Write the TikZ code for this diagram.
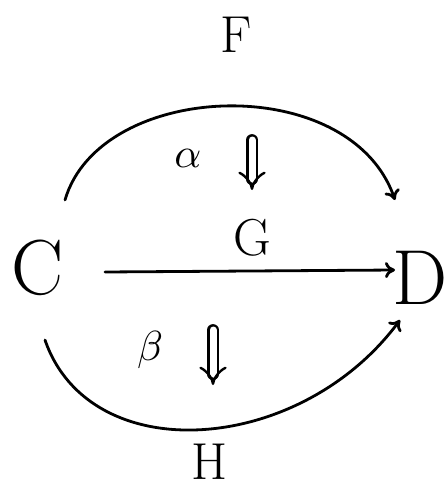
\documentclass[tikz,border=0pt]{standalone}
\usetikzlibrary{arrows.meta}
\begin{document}
\begin{tikzpicture}[x=1pt,y=-1pt,line width=2.8pt,line cap=round,
  obj/.style={inner sep=0pt,font=\fontsize{78}{78}\selectfont},
  lab/.style={inner sep=0pt,font=\fontsize{52}{52}\selectfont},
  greek/.style={inner sep=0pt,scale=4.2},
  arr/.style={-{To[length=10pt,width=16pt]}},
  twocell/.style={double,double distance=7pt,line width=2.4pt,-{Implies}}]
\useasboundingbox (0,0) rectangle (447,495);
\node[obj] (C) at (38,268) {C};
\node[obj] (D) at (420,278) {D};
\node[lab] (F) at (236,35) {F};
\node[lab] (G) at (252,238) {G};
\node[lab] (H) at (210,462) {H};
\node[greek] (al) at (188,158) {$\alpha$};
\node[greek] (be) at (150,350) {$\beta$};
\draw[arr] ([shift={(27,-68)}]C.center) .. controls (100,80) and (350,70) .. ([shift={(-25,-78)}]D.center);
\draw[arr] ([shift={(67,4)}]C.center) -- ([shift={(-25,-8)}]D.center);
\draw[arr] ([shift={(7,72)}]C.center) .. controls (90,470) and (300,455) .. ([shift={(-20,42)}]D.center);
\coordinate (a1) at (252,140);
\coordinate (a2) at (252,190);
\coordinate (b1) at (213,330);
\coordinate (b2) at (213,385);
\draw[twocell] (a1) -- (a2);
\draw[twocell] (b1) -- (b2);
\end{tikzpicture}
\end{document}
